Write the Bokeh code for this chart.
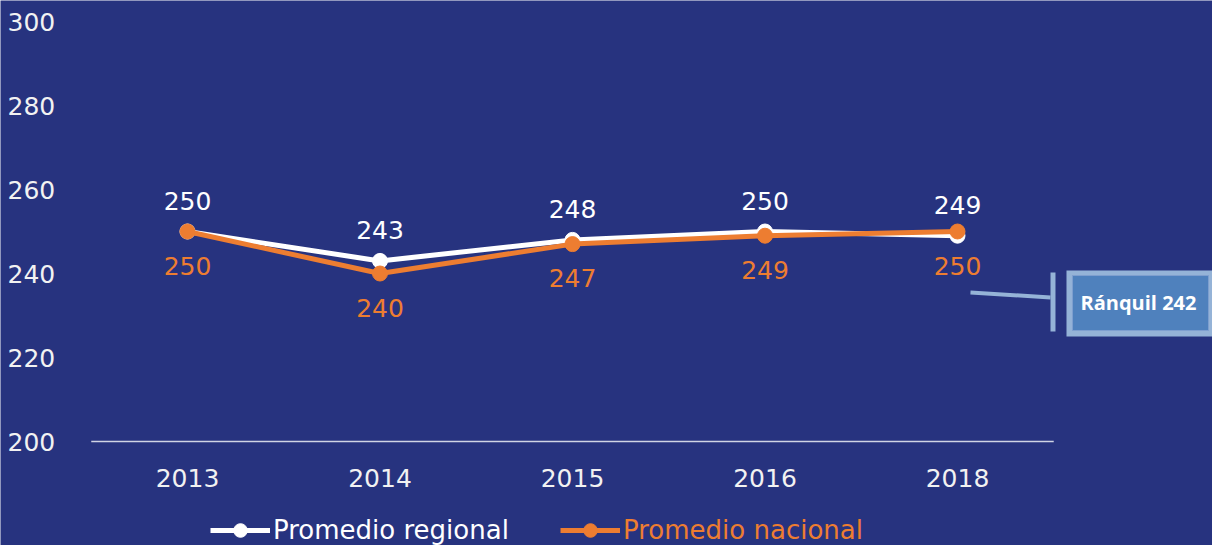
from bokeh.plotting import figure
from bokeh.models import (Range1d, FixedTicker, ColumnDataSource, Legend, LegendItem)
from bokeh.core.properties import value
from bokeh.embed import file_html
from bokeh.resources import INLINE

# ---- data ----
years = ["2013", "2014", "2015", "2016", "2018"]
regional = [250, 243, 248, 250, 249]
nacional = [250, 240, 247, 249, 250]
y_ticks = [200, 220, 240, 260, 280, 300]
callout_label = "Ránquil 242"

BG = "#27337F"
WHITE = "#FFFFFF"
ORANGE = "#ED7D31"
LIGHT = "#95B3D7"
FILL = "#4F81BD"
FONT = "DejaVu Sans"

idx = list(range(len(years)))
src = ColumnDataSource(dict(
    x=idx, reg=regional, nac=nacional,
    reg_lbl=[str(v) for v in regional],
    nac_lbl=[str(v) for v in nacional],
))

X_LEFT = idx[0] - 0.5

p = figure(width=1212, height=545,
           x_range=Range1d(-0.9714, 5.3247), y_range=Range1d(175.24, 305.0),
           output_backend="svg", toolbar_location=None,
           min_border_left=0, min_border_right=0,
           min_border_top=0, min_border_bottom=0)
p.background_fill_color = BG
p.border_fill_color = BG
p.outline_line_color = None
p.grid.visible = False

# y axis, fixed at the left end of the plot area
p.yaxis.fixed_location = X_LEFT
p.yaxis.ticker = FixedTicker(ticks=y_ticks)
p.yaxis.axis_line_color = None
p.yaxis.major_tick_line_color = None
p.yaxis.minor_tick_line_color = None
p.yaxis.major_label_standoff = 30
p.yaxis.major_label_text_font = FONT
p.yaxis.major_label_text_font_size = "25px"
p.yaxis.major_label_text_color = "#F2F2F2"

# x axis, fixed at the 200 baseline
p.xaxis.fixed_location = y_ticks[0]
p.xaxis.ticker = FixedTicker(ticks=idx)
p.xaxis.major_label_overrides = {i: y for i, y in zip(idx, years)}
p.xaxis.axis_line_color = None
p.xaxis.major_tick_line_color = None
p.xaxis.minor_tick_line_color = None
p.xaxis.major_label_standoff = 21
p.xaxis.major_label_text_font = FONT
p.xaxis.major_label_text_font_size = "25px"
p.xaxis.major_label_text_color = "#F2F2F2"

# baseline
p.segment(x0=[X_LEFT], x1=[idx[-1] + 0.5], y0=[y_ticks[0]], y1=[y_ticks[0]],
          line_color="#D0D4E4", line_width=1.5)

# series
r_line = p.line("x", "reg", source=src, line_color=WHITE, line_width=5)
r_pts = p.scatter("x", "reg", source=src, size=15, fill_color=WHITE, line_color=WHITE)
n_line = p.line("x", "nac", source=src, line_color=ORANGE, line_width=5)
n_pts = p.scatter("x", "nac", source=src, size=15, fill_color=ORANGE, line_color=ORANGE)

p.text("x", "reg", text="reg_lbl", source=src, text_align="center",
       text_baseline="middle", y_offset=-31, text_color=WHITE,
       text_font=value(FONT), text_font_size="25px")
p.text("x", "nac", text="nac_lbl", source=src, text_align="center",
       text_baseline="middle", y_offset=34, text_color=ORANGE,
       text_font=value(FONT), text_font_size="25px")

# callout annotation (decoration)
p.segment(x0=[4.0675], y0=[235.48], x1=[4.4831], y1=[234.29], line_color=LIGHT, line_width=4)
p.segment(x0=[4.4961], y0=[240.24], x1=[4.4961], y1=[226.19], line_color=LIGHT, line_width=5)
p.quad(left=[4.5662], right=[5.40], top=[240.71], bottom=[225.0],
       fill_color=LIGHT, line_color=None)
p.quad(left=[4.5974], right=[5.3039], top=[239.52], bottom=[226.43],
       fill_color=FILL, line_color="#7F9FCF", line_width=1)
p.text(x=[4.639], y=[233.1], text=[callout_label], text_align="left",
       text_baseline="middle", text_color=WHITE, text_font=value("Open Sans"),
       text_font_style="bold", text_font_size="20px")

# legends (two, so each label keeps its own colour)
def make_legend(label, renderers, color, loc):
    return Legend(items=[LegendItem(label=label, renderers=renderers)],
                  location=loc, orientation="horizontal",
                  background_fill_alpha=0, border_line_alpha=0,
                  padding=0, margin=0, spacing=0, label_standoff=3,
                  glyph_width=60, glyph_height=34, label_height=34,
                  label_text_color=color, label_text_font=FONT,
                  label_text_font_size="26px", label_text_baseline="middle")

p.add_layout(make_legend("Promedio regional", [r_line, r_pts], WHITE, (210, -2)))
p.add_layout(make_legend("Promedio nacional", [n_line, n_pts], ORANGE, (560, -2)))

open("out.html", "w").write(file_html(p, INLINE))
